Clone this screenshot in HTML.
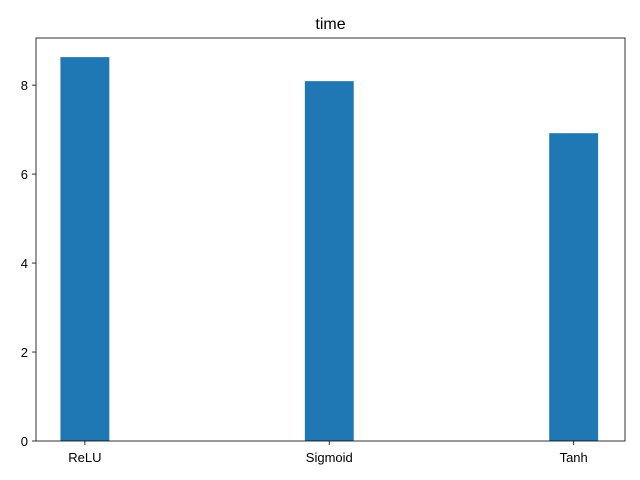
<!DOCTYPE html>
<html><head><meta charset="utf-8"><style>
body{margin:0;background:#fff;}
svg{display:block;font-family:"Liberation Sans","DejaVu Sans",sans-serif;}
</style></head><body>
<svg id="chart" width="640" height="480"></svg>
<script>
const categories = ["ReLU", "Sigmoid", "Tanh"];
const values = [8.63, 8.09, 6.92];
const yTicks = [0, 2, 4, 6, 8];
const NS = "http://www.w3.org/2000/svg";
const svg = document.getElementById("chart");
const L = 36, R = 625, T = 38, B = 441;
const xMin = -0.2, xMax = 2.21, yMin = 0, yMax = 9.06;
const xs = v => L + (v - xMin) / (xMax - xMin) * (R - L);
const ys = v => B - (v - yMin) / (yMax - yMin) * (B - T);
function mk(tag, attrs, text) {
  const e = document.createElementNS(NS, tag);
  for (const k in attrs) e.setAttribute(k, attrs[k]);
  if (text !== undefined) e.textContent = text;
  svg.appendChild(e);
  return e;
}
const barW = 0.2;
categories.forEach((c, i) => {
  const b = mk("rect", {x: xs(i - barW / 2), y: ys(values[i]), width: xs(i + barW / 2) - xs(i - barW / 2), height: ys(0) - ys(values[i]), fill: "#1f77b4"});
  
  
  const t = mk("line", {x1: xs(i), x2: xs(i), y1: B, y2: B + 4, stroke: "#000", "stroke-width": 0.8});
  
  
  const lb = mk("text", {x: xs(i), y: B + 21, "text-anchor": "middle", "font-size": 13}, c);
  
  
});
yTicks.forEach(v => {
  const t = mk("line", {x1: L - 4, x2: L, y1: ys(v), y2: ys(v), stroke: "#000", "stroke-width": 0.8});
  
  
  const lb = mk("text", {x: L - 8, y: ys(v) + 5, "text-anchor": "end", "font-size": 13}, String(v));
  
  
});
const frame = mk("rect", {x: L, y: T, width: R - L, height: B - T, fill: "none", stroke: "#000", "stroke-width": 0.8});


const title = mk("text", {x: (L + R) / 2, y: 29, "text-anchor": "middle", "font-size": 16}, "time");


</script>
</body></html>
